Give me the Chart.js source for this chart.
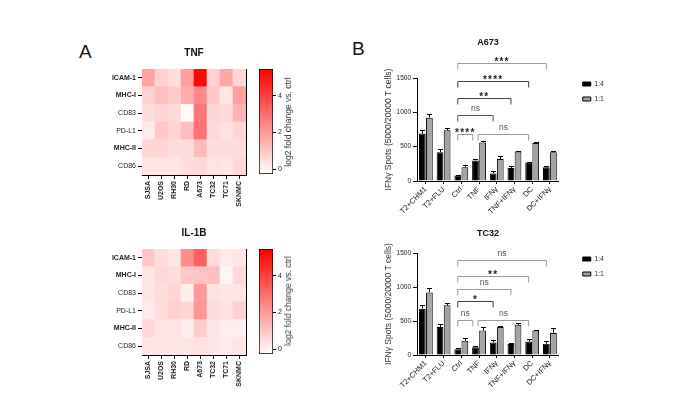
<!DOCTYPE html>
<html><head><meta charset="utf-8">
<script src="https://cdn.jsdelivr.net/npm/chart.js@4"></script>
<style>
html,body{margin:0;padding:0;background:#fff;}
#wrap{position:relative;width:692px;height:419px;overflow:hidden;background:#fff;font-family:"Liberation Sans",Arial,sans-serif;}
canvas{position:absolute;}
.panel{position:absolute;font-size:19px;line-height:19px;color:#111;}
.cbt{position:absolute;font-size:8.5px;color:#333;white-space:nowrap;transform:translate(-50%,-50%) rotate(-90deg);}
</style></head><body>
<div id="wrap">
  <div class="panel" style="left:79px;top:42px">A</div>
  <div class="panel" style="left:352px;top:39px">B</div>
  <canvas id="hmTNF" width="200" height="180" style="left:60px;top:30px"></canvas>
  <canvas id="cbTNF" width="40" height="125" style="left:250px;top:60px"></canvas>
  <div class="cbt" style="left:288px;top:122px">log2 fold change vs. ctrl</div>
  <canvas id="hmIL" width="200" height="180" style="left:60px;top:210px"></canvas>
  <canvas id="cbIL" width="40" height="125" style="left:250px;top:240px"></canvas>
  <div class="cbt" style="left:288px;top:301px">log2 fold change vs. ctrl</div>
  <canvas id="barA" width="352" height="185" style="left:340px;top:30px"></canvas>
  <canvas id="barT" width="352" height="200" style="left:340px;top:210px"></canvas>
</div>
<script>
// ---------- data ----------
const cellLines = ['SJSA','U2OS','RH30','RD','A673','TC32','TC71','SKNMC'];
const markers = ['ICAM-1','MHC-I','CD83','PD-L1','MHC-II','CD86'];
const boldMarkers = ['ICAM-1','MHC-I','MHC-II'];
const tnfLog2FC = [
  [1.8,0.8,0.5,1.9,5.3,0.8,1.7,0.6],
  [0.8,1.2,0.9,1.6,2.4,1.0,0.3,1.9],
  [0.5,0.7,0.6,-0.1,2.8,0.7,0.6,1.4],
  [0.2,1.0,0.7,1.2,2.9,0.6,0.4,0.7],
  [0.7,0.7,0.5,0.5,1.3,0.5,0.5,0.5],
  [0.3,0.3,0.3,0.5,0.6,0.4,0.3,0.6]
];
const il1bLog2FC = [
  [1.0,0.5,0.3,2.3,3.3,0.5,0.2,0.3],
  [0.3,0.6,0.5,1.0,1.1,1.2,0.0,0.6],
  [0.3,0.5,0.7,0.1,2.0,0.4,0.3,0.3],
  [0.2,0.5,0.8,0.7,2.1,0.5,0.4,0.8],
  [0.6,0.4,0.4,0.1,0.9,0.3,0.1,0.1],
  [0.3,0.3,0.3,0.3,0.4,0.3,0.2,0.3]
];
const cbMin = -0.25, cbMax = 5.45;
const cbTicks = [0, 2, 4];

const conditions = ['T2+CHM1','T2+FLU','Ctrl','TNF','IFNγ','TNF+IFNγ','DC','DC+IFNγ'];
const a673Ratio14    = [690,420,80,300,110,190,270,200];
const a673Ratio14Err = [60,50,8,25,35,30,10,25];
const a673Ratio11    = [920,740,200,560,320,430,555,420];
const a673Ratio11Err = [60,30,40,25,40,10,12,12];
const tc32Ratio14    = [680,410,85,115,185,160,200,165];
const tc32Ratio14Err = [55,40,20,20,35,15,35,40];
const tc32Ratio11    = [920,730,210,360,410,445,360,325];
const tc32Ratio11Err = [60,30,45,55,15,25,15,70];
const yTicks = [0, 500, 1000, 1500];

// significance brackets (category index positions, y value, label)
const bracketFrom = [1.8,1.8,1.8,1.8,1.8,2.95];
const bracketTo   = [6.8,5.8,4.8,3.8,2.65,5.8];
const a673BracketY    = [1720,1456,1206,956,691,691];
const a673BracketText = ['***','****','**','ns','****','ns'];
const tc32BracketY    = [1397,1162,966,790,515,515];
const tc32BracketText = ['ns','**','ns','*','ns','ns'];
// styles
const a673BracketColor = ['#9a9a9a','#444','#444','#555','#9a9a9a','#9a9a9a'];
const tc32BracketColor = ['#9a9a9a','#9a9a9a','#9a9a9a','#444','#9a9a9a','#9a9a9a'];

// ---------- setup ----------
Chart.defaults.font.family = '"Liberation Sans", Arial, sans-serif';
Chart.defaults.color = '#222';

function heatColor(v) {
  let t = (v - cbMin) / (cbMax - cbMin);
  t = Math.max(0, Math.min(1, t));
  const g = Math.round(255 * (1 - t));
  return `rgb(255,${g},${g})`;
}

function heatmap(id, title, matrix) {
  const n = markers.length;
  const datasets = markers.map((m, r) => ({
    label: m,
    data: cellLines.map(() => 1),
    backgroundColor: matrix[r].map(heatColor),
    borderWidth: 0,
    barPercentage: 1,
    categoryPercentage: 1
  })).reverse();
  new Chart(document.getElementById(id), {
    type: 'bar',
    data: { labels: cellLines, datasets },
    options: {
      responsive: false, animation: false, devicePixelRatio: 1,
      layout: { padding: { left: 0, right: 14, top: 0, bottom: 0 } },
      plugins: {
        legend: { display: false }, tooltip: { enabled: false },
        title: { display: true, text: title, fullSize: false, color: '#111',
                 font: { size: 10, weight: 'bold' }, padding: { top: 17.3, bottom: 9.7 } }
      },
      scales: {
        x: { stacked: true, z: 1,
             grid: { drawOnChartArea: false, offset: false, tickLength: 4, color: '#000' },
             border: { color: '#000' },
             ticks: { minRotation: 90, maxRotation: 90, autoSkip: false, padding: 2,
                      font: { size: 7, weight: 'bold' }, color: '#222' },
             afterFit(a) { a.height = 35; } },
        y: { stacked: true, z: 1, min: 0, max: n,
             afterBuildTicks(a) { a.ticks = markers.map((_, i) => ({ value: i + 0.5 })); },
             ticks: { autoSkip: false, padding: 2, color: '#222',
                      callback: (v) => markers[n - 1 - Math.floor(v)],
                      font: (c) => ({ size: 7, weight: (c.tick && boldMarkers.includes(c.tick.label)) ? 'bold' : 'normal' }) },
             grid: { drawOnChartArea: false, tickLength: 4, color: '#000' },
             border: { color: '#000' },
             afterFit(a) { a.width = 82; } },
        xTop: { type: 'category', position: 'top', z: 1, ticks: { display: false },
                grid: { display: false, drawTicks: false }, border: { color: '#000' },
                afterFit(a) { a.height = 0; } },
        yRight: { type: 'linear', position: 'right', z: 1, min: 0, max: n, ticks: { display: false },
                  grid: { display: false, drawTicks: false }, border: { color: '#000' },
                  afterFit(a) { a.width = 0; } }
      }
    }
  });
}

function colorBar(id) {
  new Chart(document.getElementById(id), {
    type: 'bar',
    data: { labels: [''], datasets: [{
      data: [[cbMin, cbMax]],
      backgroundColor: (c) => {
        const ch = c.chart, ys = ch.scales.y;
        if (!ch.chartArea || !ys) return heatColor(2);
        const g = ch.ctx.createLinearGradient(0, ys.getPixelForValue(cbMin), 0, ys.getPixelForValue(cbMax));
        g.addColorStop(0, heatColor(cbMin)); g.addColorStop(1, heatColor(cbMax));
        return g;
      },
      borderColor: '#000', borderWidth: 1, borderSkipped: false,
      barPercentage: 1, categoryPercentage: 1
    }]},
    options: {
      responsive: false, animation: false, devicePixelRatio: 1,
      layout: { padding: { left: 9, right: 0, top: 9, bottom: 11 } },
      plugins: { legend: { display: false }, tooltip: { enabled: false } },
      scales: {
        x: { display: false },
        y: { position: 'right', min: cbMin, max: cbMax,
             afterBuildTicks(a) { a.ticks = cbTicks.map(v => ({ value: v })); },
             ticks: { font: { size: 7 }, color: '#222', padding: 2 },
             grid: { drawOnChartArea: false, tickLength: 3, color: '#000' },
             border: { display: false },
             afterFit(a) { a.width = 17; } }
      }
    }
  });
}

const errorBarPlugin = {
  id: 'errorBars',
  afterDatasetsDraw(chart) {
    const ctx = chart.ctx, ys = chart.scales.y;
    chart.data.datasets.forEach((ds, i) => {
      if (!ds.errors) return;
      chart.getDatasetMeta(i).data.forEach((bar, j) => {
        const x = Math.round(bar.x) + 0.5;
        const top = Math.round(ys.getPixelForValue(ds.data[j] + ds.errors[j])) + 0.5;
        ctx.save();
        ctx.strokeStyle = '#000'; ctx.lineWidth = 1;
        ctx.beginPath();
        ctx.moveTo(x, bar.y); ctx.lineTo(x, top);
        ctx.moveTo(x - 2.5, top); ctx.lineTo(x + 2.5, top);
        ctx.stroke();
        ctx.restore();
      });
    });
  }
};

const bracketPlugin = {
  id: 'sigBrackets',
  afterDraw(chart) {
    const b = chart.data.brackets; if (!b) return;
    const ctx = chart.ctx, xs = chart.scales.x, ys = chart.scales.y;
    b.from.forEach((f, i) => {
      const x1 = xs.getPixelForValue(f), x2 = xs.getPixelForValue(b.to[i]);
      const y = Math.round(ys.getPixelForValue(b.y[i])) + 0.5;
      ctx.save();
      ctx.strokeStyle = b.colors[i]; ctx.lineWidth = 1;
      ctx.beginPath();
      ctx.moveTo(x1, y + 6); ctx.lineTo(x1, y); ctx.lineTo(x2, y); ctx.lineTo(x2, y + 6);
      ctx.stroke();
      const t = b.text[i], star = /^\*+$/.test(t);
      ctx.fillStyle = star ? '#222' : '#555';
      ctx.textAlign = 'center'; ctx.textBaseline = 'alphabetic';
      ctx.font = star ? 'bold 10px "Liberation Sans"' : '8.5px "Liberation Sans"';
      if (star) ctx.letterSpacing = '1.2px';
      ctx.fillText(t, (x1 + x2) / 2, y + (star ? 1 : -5));
      ctx.restore();
    });
  }
};

const legendNudge = {
  id: 'legendNudge',
  afterLayout(chart) {
    const l = chart.legend; if (!l) return;
    const dx = chart.chartArea.right + 16 - l.left, dy = -5.5;
    l.left += dx; l.right += dx; l.top += dy; l.bottom += dy;
  }
};

function barChart(id, title, d14, e14, d11, e11, bY, bText, bColor, titlePad, xH) {
  new Chart(document.getElementById(id), {
    type: 'bar',
    data: {
      labels: conditions,
      datasets: [
        { label: '1:4', data: d14, errors: e14, backgroundColor: '#000', borderColor: '#000', borderWidth: 1 },
        { label: '1:1', data: d11, errors: e11, backgroundColor: '#a3a3a3', borderColor: '#000', borderWidth: 1 }
      ],
      brackets: { from: bracketFrom, to: bracketTo, y: bY, text: bText, colors: bColor }
    },
    options: {
      responsive: false, animation: false, devicePixelRatio: 1,
      datasets: { bar: { barPercentage: 0.95, categoryPercentage: 0.8 } },
      layout: { padding: { left: 0, right: 94, top: 0, bottom: 0 } },
      plugins: {
        tooltip: { enabled: false },
        title: { display: true, text: title, fullSize: false, color: '#111',
                 font: { size: 9, weight: 'bold' }, padding: titlePad },
        legend: { position: 'right', align: 'start', fullSize: false,
                  labels: { boxWidth: 8, boxHeight: 4, padding: 8, font: { size: 7 }, color: '#333' } }
      },
      scales: {
        x: { grid: { drawOnChartArea: false, offset: false, tickLength: 3, color: '#000' },
             border: { color: '#000' },
             ticks: { minRotation: 45, maxRotation: 45, autoSkip: false, padding: 1, font: { size: 7.5 }, color: '#222' },
             afterFit(a) { a.height = xH; } },
        y: { min: 0, max: 1500,
             afterBuildTicks(a) { a.ticks = yTicks.map(v => ({ value: v })); },
             ticks: { font: { size: 6.5 }, color: '#222', padding: 2, callback: (v) => String(v) },
             grid: { drawOnChartArea: false, tickLength: 4, color: '#000' },
             border: { color: '#000' },
             title: { display: true, text: 'IFNγ Spots (5000/20000 T cells)', color: '#333',
                      font: { size: 8.5 }, padding: { top: 44, bottom: 0 } },
             afterFit(a) { a.width = 77; } }
      }
    },
    plugins: [errorBarPlugin, bracketPlugin, legendNudge]
  });
}

heatmap('hmTNF', 'TNF', tnfLog2FC);
heatmap('hmIL', 'IL-1B', il1bLog2FC);
colorBar('cbTNF');
colorBar('cbIL');
barChart('barA', 'A673', a673Ratio14, a673Ratio14Err, a673Ratio11, a673Ratio11Err,
         a673BracketY, a673BracketText, a673BracketColor, { top: 7.6, bottom: 29.6 }, 34);
barChart('barT', 'TC32', tc32Ratio14, tc32Ratio14Err, tc32Ratio11, tc32Ratio11Err,
         tc32BracketY, tc32BracketText, tc32BracketColor, { top: 18.6, bottom: 13.6 }, 55);
</script>
</body></html>
